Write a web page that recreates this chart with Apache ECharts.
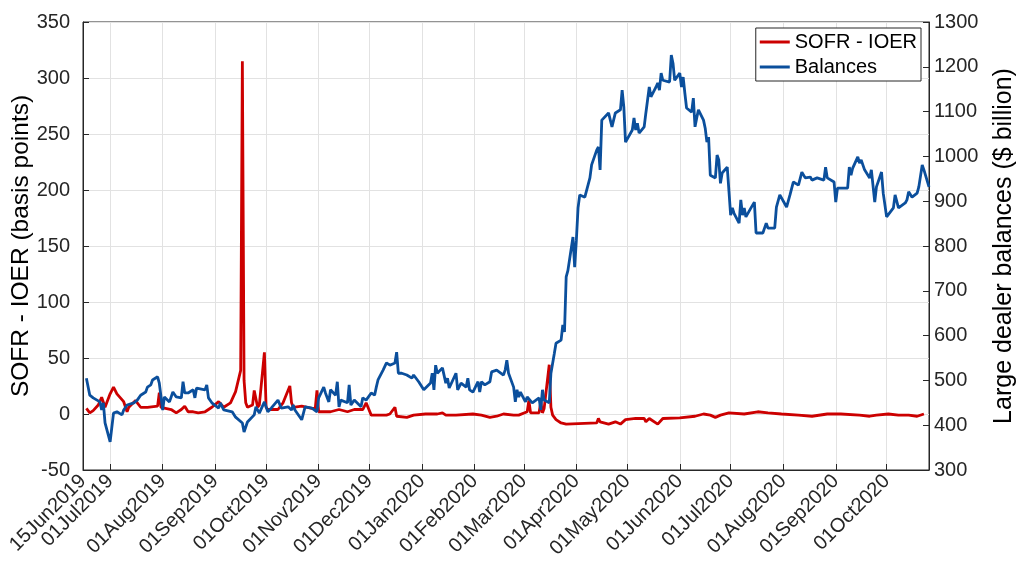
<!DOCTYPE html>
<html><head><meta charset="utf-8">
<script src="https://cdn.jsdelivr.net/npm/echarts@6/dist/echarts.min.js"></script>
<style>html,body{margin:0;padding:0;background:#fff}#c{width:1016px;height:573px}</style>
</head><body><div id="c"></div>
<script>
const xTickLabels = ['15Jun2019','01Jul2019','01Aug2019','01Sep2019','01Oct2019','01Nov2019','01Dec2019','01Jan2020','01Feb2020','01Mar2020','01Apr2020','01May2020','01Jun2020','01Jul2020','01Aug2020','01Sep2020','01Oct2020'];
const xRange = ['2019-06-15', '2020-10-26'];
const leftTicks = { min: -50, max: 350, step: 50 };
const rightTicks = { min: 300, max: 1300, step: 100 };

const sofrIoer = [
['2019-06-17',5],['2019-06-19',1],['2019-06-21',3],['2019-06-24',8],['2019-06-26',15],['2019-06-28',6],['2019-07-01',18],['2019-07-03',24],['2019-07-05',18],['2019-07-09',11],['2019-07-11',2],['2019-07-12',6],['2019-07-16',12],['2019-07-19',6],['2019-07-23',6],['2019-07-29',7],['2019-07-30',19],['2019-07-31',6],['2019-08-06',4],['2019-08-09',1],['2019-08-12',4],['2019-08-14',7],['2019-08-16',2],['2019-08-19',2],['2019-08-22',1],['2019-08-26',2],['2019-08-30',6],['2019-09-03',11],['2019-09-06',6],['2019-09-10',10],['2019-09-13',20],['2019-09-16',39],['2019-09-17',315],['2019-09-18',30],['2019-09-19',10],['2019-09-20',6],['2019-09-23',8],['2019-09-24',21],['2019-09-26',6],['2019-09-27',8],['2019-09-30',55],['2019-10-01',6],['2019-10-02',4],['2019-10-08',4],['2019-10-11',10],['2019-10-15',25],['2019-10-16',10],['2019-10-17',6],['2019-10-22',7],['2019-10-28',5],['2019-10-30',5],['2019-10-31',21],['2019-11-01',2],['2019-11-08',2],['2019-11-13',4],['2019-11-18',2],['2019-11-22',4],['2019-11-27',4],['2019-11-29',10],['2019-12-02',-1],['2019-12-11',-1],['2019-12-13',0],['2019-12-16',6],['2019-12-17',-2],['2019-12-23',-3],['2019-12-27',-1],['2020-01-03',0],['2020-01-10',0],['2020-01-13',1],['2020-01-15',-1],['2020-01-21',-1],['2020-01-31',0],['2020-02-05',-1],['2020-02-10',-3],['2020-02-14',-2],['2020-02-18',0],['2020-02-24',-1],['2020-02-27',-1],['2020-03-03',2],['2020-03-04',12],['2020-03-05',1],['2020-03-10',1],['2020-03-11',11],['2020-03-12',1],['2020-03-13',5],['2020-03-16',44],['2020-03-17',6],['2020-03-18',-1],['2020-03-20',-5],['2020-03-23',-8],['2020-03-26',-9],['2020-04-13',-8],['2020-04-14',-4],['2020-04-15',-7],['2020-04-20',-9],['2020-04-24',-7],['2020-04-27',-9],['2020-04-30',-5],['2020-05-06',-4],['2020-05-11',-4],['2020-05-12',-7],['2020-05-14',-4],['2020-05-15',-5],['2020-05-19',-9],['2020-05-22',-4],['2020-06-01',-3.5],['2020-06-10',-2],['2020-06-15',0],['2020-06-19',-1],['2020-06-22',-3],['2020-06-25',-1],['2020-06-30',1],['2020-07-09',0],['2020-07-17',2],['2020-07-23',1],['2020-07-31',0],['2020-08-10',-1],['2020-08-18',-2],['2020-08-27',0],['2020-09-04',0],['2020-09-15',-1],['2020-09-21',-2],['2020-09-25',-1],['2020-10-02',0],['2020-10-08',-1],['2020-10-14',-1],['2020-10-19',-2],['2020-10-23',0]
];

const balances = [
['2019-06-17',505],['2019-06-19',467],['2019-06-21',461],['2019-06-25',452],['2019-06-26',434],['2019-06-27',450],['2019-06-28',405],['2019-07-01',363],['2019-07-03',427],['2019-07-05',430],['2019-07-08',423],['2019-07-09',434],['2019-07-11',445],['2019-07-12',441],['2019-07-15',450],['2019-07-17',456],['2019-07-19',467],['2019-07-22',474],['2019-07-23',485],['2019-07-25',490],['2019-07-26',501],['2019-07-29',508],['2019-07-30',494],['2019-08-01',434],['2019-08-02',463],['2019-08-05',452],['2019-08-07',474],['2019-08-09',463],['2019-08-12',461],['2019-08-13',497],['2019-08-14',472],['2019-08-16',472],['2019-08-19',479],['2019-08-20',461],['2019-08-21',483],['2019-08-26',479],['2019-08-27',490],['2019-08-28',461],['2019-08-30',450],['2019-09-03',438],['2019-09-04',450],['2019-09-06',434],['2019-09-11',430],['2019-09-13',418],['2019-09-17',405],['2019-09-18',385],['2019-09-20',407],['2019-09-24',423],['2019-09-25',441],['2019-09-27',427],['2019-09-30',452],['2019-10-02',430],['2019-10-04',438],['2019-10-08',456],['2019-10-10',438],['2019-10-14',441],['2019-10-16',434],['2019-10-17',445],['2019-10-18',434],['2019-10-22',412],['2019-10-24',441],['2019-10-28',438],['2019-10-29',441],['2019-10-31',430],['2019-11-01',461],['2019-11-04',485],['2019-11-05',472],['2019-11-07',452],['2019-11-08',479],['2019-11-11',467],['2019-11-12',497],['2019-11-13',441],['2019-11-14',456],['2019-11-18',450],['2019-11-19',490],['2019-11-20',445],['2019-11-22',456],['2019-11-26',441],['2019-11-27',461],['2019-11-29',456],['2019-12-02',472],['2019-12-04',467],['2019-12-05',485],['2019-12-06',501],['2019-12-09',523],['2019-12-11',539],['2019-12-13',534],['2019-12-16',539],['2019-12-17',563],['2019-12-18',516],['2019-12-20',516],['2019-12-23',512],['2019-12-26',505],['2019-12-27',512],['2019-12-30',497],['2020-01-02',479],['2020-01-03',483],['2020-01-06',494],['2020-01-07',516],['2020-01-08',479],['2020-01-09',534],['2020-01-10',516],['2020-01-13',528],['2020-01-15',494],['2020-01-16',505],['2020-01-17',483],['2020-01-21',516],['2020-01-22',479],['2020-01-24',494],['2020-01-27',485],['2020-01-28',505],['2020-01-29',479],['2020-01-31',474],['2020-02-03',497],['2020-02-04',474],['2020-02-05',497],['2020-02-07',490],['2020-02-10',497],['2020-02-11',519],['2020-02-12',516],['2020-02-14',523],['2020-02-18',512],['2020-02-19',523],['2020-02-20',545],['2020-02-21',516],['2020-02-24',485],['2020-02-25',452],['2020-02-26',479],['2020-02-27',463],['2020-02-28',474],['2020-03-02',452],['2020-03-03',463],['2020-03-04',467],['2020-03-06',450],['2020-03-10',461],['2020-03-11',434],['2020-03-12',479],['2020-03-13',456],['2020-03-16',450],['2020-03-17',516],['2020-03-18',519],['2020-03-19',560],['2020-03-20',583],['2020-03-23',590],['2020-03-24',624],['2020-03-25',608],['2020-03-26',731],['2020-03-27',745],['2020-03-30',820],['2020-03-31',753],['2020-04-01',813],['2020-04-02',885],['2020-04-03',914],['2020-04-06',909],['2020-04-07',907],['2020-04-09',952],['2020-04-10',981],['2020-04-13',1014],['2020-04-14',1021],['2020-04-15',970],['2020-04-16',1081],['2020-04-20',1097],['2020-04-22',1066],['2020-04-24',1097],['2020-04-27',1104],['2020-04-28',1148],['2020-04-29',1110],['2020-04-30',1032],['2020-05-04',1059],['2020-05-05',1086],['2020-05-06',1059],['2020-05-07',1074],['2020-05-08',1052],['2020-05-11',1066],['2020-05-12',1097],['2020-05-13',1100],['2020-05-14',1155],['2020-05-15',1133],['2020-05-18',1155],['2020-05-19',1164],['2020-05-20',1148],['2020-05-21',1186],['2020-05-22',1170],['2020-05-26',1166],['2020-05-27',1226],['2020-05-28',1208],['2020-05-29',1170],['2020-06-01',1186],['2020-06-02',1155],['2020-06-03',1177],['2020-06-04',1141],['2020-06-05',1108],['2020-06-08',1099],['2020-06-09',1130],['2020-06-10',1066],['2020-06-11',1086],['2020-06-12',1104],['2020-06-15',1081],['2020-06-16',1063],['2020-06-17',1032],['2020-06-18',1043],['2020-06-19',958],['2020-06-22',952],['2020-06-23',1003],['2020-06-24',992],['2020-06-25',940],['2020-06-26',963],['2020-06-29',976],['2020-06-30',976],['2020-07-01',869],['2020-07-02',885],['2020-07-03',873],['2020-07-06',851],['2020-07-07',903],['2020-07-08',869],['2020-07-09',885],['2020-07-10',865],['2020-07-13',885],['2020-07-15',898],['2020-07-16',829],['2020-07-20',829],['2020-07-22',851],['2020-07-23',840],['2020-07-27',840],['2020-07-28',887],['2020-07-30',914],['2020-08-03',887],['2020-08-05',914],['2020-08-07',943],['2020-08-10',936],['2020-08-12',965],['2020-08-14',952],['2020-08-17',954],['2020-08-18',947],['2020-08-21',952],['2020-08-25',947],['2020-08-26',976],['2020-08-27',952],['2020-08-31',943],['2020-09-01',898],['2020-09-02',929],['2020-09-08',929],['2020-09-09',976],['2020-09-10',958],['2020-09-11',974],['2020-09-14',999],['2020-09-15',985],['2020-09-16',992],['2020-09-18',970],['2020-09-21',952],['2020-09-22',970],['2020-09-24',898],['2020-09-25',932],['2020-09-28',965],['2020-09-29',918],['2020-10-01',865],['2020-10-05',885],['2020-10-06',914],['2020-10-07',918],['2020-10-08',885],['2020-10-12',896],['2020-10-13',903],['2020-10-14',921],['2020-10-16',909],['2020-10-19',918],['2020-10-20',932],['2020-10-22',981],['2020-10-23',970],['2020-10-26',932]
];

const MONTHS = {Jan:0,Feb:1,Mar:2,Apr:3,May:4,Jun:5,Jul:6,Aug:7,Sep:8,Oct:9,Nov:10,Dec:11};
function parseLabel(s){ return new Date(+s.slice(5), MONTHS[s.slice(2,5)], +s.slice(0,2)).getTime(); }
function parseIso(s){ const p = s.split('-'); return new Date(+p[0], +p[1]-1, +p[2]).getTime(); }
const tickValues = xTickLabels.map(parseLabel);
const labelOf = {};
tickValues.forEach((v,i)=>{ labelOf[v] = xTickLabels[i]; });

const FONT = "'Liberation Sans', Arial, sans-serif";
const AX = '#262626';
const GRIDC = '#e2e2e2';
const xMin = parseIso(xRange[0]), xMax = parseIso(xRange[1]);
const xLabelStyle = {
  rotate: 45, fontSize: 20, color: AX, margin: 8,
  hideOverlap: false, showMinLabel: true, showMaxLabel: true, fontFamily: FONT,
  formatter: function(v){ return labelOf[v] !== undefined ? labelOf[v] : ''; }
};

const chart = echarts.init(document.getElementById('c'), null, {renderer:'canvas'});
chart.setOption({
  backgroundColor: '#ffffff',
  animation: false,
  textStyle: { fontFamily: FONT },
  grid: { left: 83, right: 87, top: 22, bottom: 103, containLabel: false, outerBoundsMode: 'none',
          show: true, borderColor: AX, borderWidth: 1, backgroundColor: '#fff' },
  legend: {
    orient: 'vertical', right: 95, top: 28,
    data: ['SOFR - IOER', 'Balances'],
    icon: 'rect', itemWidth: 30, itemHeight: 3, itemGap: 5,
    padding: [4, 4, 4, 4],
    borderColor: AX, borderWidth: 1, backgroundColor: '#fff',
    textStyle: { fontSize: 20, color: '#000', fontFamily: FONT }
  },
  xAxis: [
    {
      type: 'value', min: xMin, max: xMax, position: 'bottom',
      axisLine: { show: true, onZero: false, lineStyle: { color: AX, width: 1 } },
      axisTick: { show: true, inside: true, length: 6, lineStyle: { color: AX }, customValues: tickValues },
      splitLine: { show: true, lineStyle: { color: GRIDC, width: 1 }, customValues: tickValues },
      axisLabel: Object.assign({ customValues: tickValues.slice(1) }, xLabelStyle)
    },
    {
      type: 'value', min: xMin, max: xMax, position: 'bottom',
      axisLine: { show: false, onZero: false },
      axisTick: { show: false },
      splitLine: { show: false },
      axisLabel: Object.assign({ customValues: tickValues.slice(0, 1) }, xLabelStyle)
    }
  ],
  yAxis: [
    {
      type: 'value', position: 'left',
      min: leftTicks.min, max: leftTicks.max, interval: leftTicks.step,
      name: 'SOFR - IOER (basis points)', nameLocation: 'middle', nameGap: 49, nameRotate: 90,
      nameMoveOverlap: false,
      nameTextStyle: { fontSize: 24.5, color: '#000', fontFamily: FONT },
      axisLine: { show: true, lineStyle: { color: AX, width: 1 } },
      axisTick: { show: true, inside: true, length: 6, lineStyle: { color: AX } },
      axisLabel: { fontSize: 20, color: AX, margin: 13, fontFamily: FONT, formatter: v => String(v) },
      splitLine: { show: true, lineStyle: { color: GRIDC, width: 1 } }
    },
    {
      type: 'value', position: 'right',
      min: rightTicks.min, max: rightTicks.max, interval: rightTicks.step,
      name: 'Large dealer balances ($ billion)', nameLocation: 'middle', nameGap: 63, nameRotate: 90,
      nameMoveOverlap: false,
      nameTextStyle: { fontSize: 25, color: '#000', fontFamily: FONT },
      axisLine: { show: true, lineStyle: { color: AX, width: 1 } },
      axisTick: { show: true, inside: true, length: 6, lineStyle: { color: AX } },
      axisLabel: { fontSize: 20, color: AX, margin: 5, fontFamily: FONT, formatter: v => String(v) },
      splitLine: { show: false }
    }
  ],
  series: [
    {
      name: 'SOFR - IOER', type: 'line', xAxisIndex: 0, yAxisIndex: 0,
      data: sofrIoer.map(d => [parseIso(d[0]), d[1]]),
      showSymbol: false, symbol: 'none',
      lineStyle: { color: '#cc0000', width: 2.8 }, itemStyle: { color: '#cc0000' }
    },
    {
      name: 'Balances', type: 'line', xAxisIndex: 0, yAxisIndex: 1,
      data: balances.map(d => [parseIso(d[0]), d[1]]),
      showSymbol: false, symbol: 'none',
      lineStyle: { color: '#0b4f9c', width: 2.8 }, itemStyle: { color: '#0b4f9c' }
    }
  ]
});
</script>
</body></html>
